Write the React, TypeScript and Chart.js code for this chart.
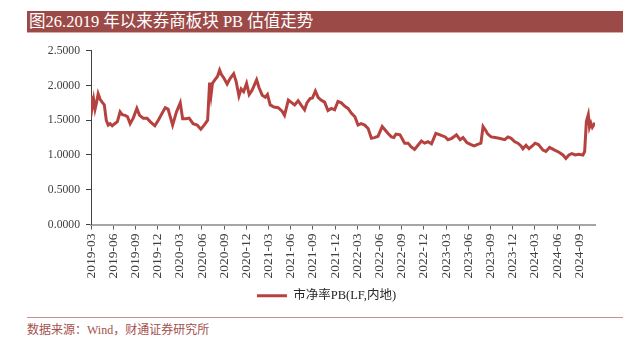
import React, { useEffect, useRef } from 'react';
import { Chart, registerables } from 'chart.js';

Chart.register(...registerables);

const titleText = '图26.2019 年以来券商板块 PB 估值走势';
const sourceText = '数据来源：Wind，财通证券研究所';
const seriesName = '市净率PB(LF,内地)';

const tickLabels = [
  '2019-03', '2019-06', '2019-09', '2019-12', '2020-03', '2020-06', '2020-09', '2020-12',
  '2021-03', '2021-06', '2021-09', '2021-12', '2022-03', '2022-06', '2022-09', '2022-12',
  '2023-03', '2023-06', '2023-09', '2023-12', '2024-03', '2024-06', '2024-09',
];

const dates = [
  '2019-03-01', '2019-03-06', '2019-03-12', '2019-03-18', '2019-03-24', '2019-03-31', '2019-04-08', '2019-04-16',
  '2019-04-25', '2019-05-03', '2019-05-11', '2019-05-19', '2019-05-28', '2019-06-07', '2019-06-18', '2019-06-29',
  '2019-07-08', '2019-07-20', '2019-07-30', '2019-08-10', '2019-08-23', '2019-09-07', '2019-09-18', '2019-10-03',
  '2019-10-19', '2019-11-01', '2019-11-20', '2019-12-04', '2019-12-20', '2020-01-02', '2020-01-14', '2020-02-02',
  '2020-02-17', '2020-03-03', '2020-03-13', '2020-03-27', '2020-04-09', '2020-04-25', '2020-05-12', '2020-05-27',
  '2020-06-10', '2020-06-24', '2020-07-02', '2020-07-08', '2020-07-14', '2020-07-24', '2020-08-04', '2020-08-13',
  '2020-08-20', '2020-09-01', '2020-09-13', '2020-09-25', '2020-10-10', '2020-10-20', '2020-11-01', '2020-11-10',
  '2020-11-20', '2020-12-02', '2020-12-13', '2020-12-25', '2021-01-13', '2021-01-23', '2021-02-05', '2021-02-17',
  '2021-02-25', '2021-03-08', '2021-03-24', '2021-04-10', '2021-04-26', '2021-05-06', '2021-05-22', '2021-06-02',
  '2021-06-17', '2021-07-01', '2021-07-13', '2021-07-28', '2021-08-07', '2021-08-20', '2021-08-30', '2021-09-11',
  '2021-09-22', '2021-10-04', '2021-10-19', '2021-11-02', '2021-11-16', '2021-11-29', '2021-12-13', '2021-12-27',
  '2022-01-11', '2022-01-24', '2022-02-07', '2022-02-20', '2022-03-04', '2022-03-17', '2022-04-01', '2022-04-15',
  '2022-04-28', '2022-05-11', '2022-05-26', '2022-06-12', '2022-06-24', '2022-07-06', '2022-07-20', '2022-07-30',
  '2022-08-08', '2022-08-25', '2022-09-13', '2022-09-27', '2022-10-09', '2022-10-24', '2022-11-07', '2022-11-21',
  '2022-12-04', '2022-12-18', '2023-01-02', '2023-01-20', '2023-02-06', '2023-02-26', '2023-03-09', '2023-03-25',
  '2023-04-13', '2023-04-28', '2023-05-10', '2023-05-26', '2023-06-12', '2023-06-25', '2023-07-07', '2023-07-23',
  '2023-08-01', '2023-08-11', '2023-08-21', '2023-09-04', '2023-09-20', '2023-10-06', '2023-10-30', '2023-11-12',
  '2023-11-25', '2023-12-10', '2023-12-23', '2024-01-05', '2024-01-13', '2024-01-26', '2024-02-07', '2024-02-20',
  '2024-03-02', '2024-03-16', '2024-04-04', '2024-04-16', '2024-05-01', '2024-05-22', '2024-06-09', '2024-06-25',
  '2024-07-07', '2024-07-20', '2024-08-01', '2024-08-16', '2024-08-30', '2024-09-16', '2024-09-23', '2024-09-30',
  '2024-10-08', '2024-10-13', '2024-10-19', '2024-10-25', '2024-11-01', '2024-11-05',
];

const pbValues = [
  1.85, 1.68, 1.80, 1.66, 1.75, 1.88, 1.80, 1.76,
  1.72, 1.50, 1.43, 1.45, 1.42, 1.45, 1.48, 1.62,
  1.58, 1.57, 1.55, 1.45, 1.53, 1.67, 1.57, 1.53,
  1.53, 1.48, 1.42, 1.50, 1.60, 1.68, 1.66, 1.43,
  1.62, 1.75, 1.52, 1.52, 1.53, 1.45, 1.43, 1.37,
  1.43, 1.50, 2.04, 1.86, 2.03, 2.08, 2.13, 2.22,
  2.16, 2.10, 2.02, 2.10, 2.17, 2.06, 1.85, 1.95,
  1.91, 2.03, 1.87, 1.93, 2.08, 1.97, 1.86, 1.83,
  1.87, 1.72, 1.69, 1.68, 1.63, 1.57, 1.79, 1.76,
  1.72, 1.78, 1.72, 1.65, 1.75, 1.81, 1.82, 1.92,
  1.83, 1.79, 1.76, 1.64, 1.67, 1.65, 1.77, 1.75,
  1.70, 1.67, 1.60, 1.55, 1.43, 1.45, 1.43, 1.38,
  1.24, 1.25, 1.27, 1.41, 1.36, 1.31, 1.26, 1.25,
  1.30, 1.29, 1.17, 1.17, 1.12, 1.08, 1.14, 1.20,
  1.17, 1.19, 1.16, 1.31, 1.29, 1.26, 1.22, 1.24,
  1.29, 1.22, 1.25, 1.18, 1.15, 1.13, 1.15, 1.17,
  1.41, 1.36, 1.30, 1.26, 1.25, 1.24, 1.22, 1.26,
  1.24, 1.19, 1.17, 1.13, 1.09, 1.14, 1.09, 1.13,
  1.17, 1.15, 1.07, 1.05, 1.11, 1.07, 1.04, 1.00,
  0.95, 1.00, 1.02, 1.00, 1.01, 1.00, 1.05, 1.48,
  1.58, 1.40, 1.46, 1.40, 1.44, 1.42,
];

const yTickMin = 0;
const yTickMax = 2.5;
const yTickStep = 0.5;

const LINE_COLOR = '#b6423f';
const BAR_COLOR = '#9c4a47';
const FONT = '"Liberation Serif", "Times New Roman", "Noto Sans CJK SC", serif';

function monthIndex(d: string): number {
  const [y, m, day] = d.split('-').map(Number);
  const dim = new Date(y, m, 0).getDate();
  return (y - 2019) * 12 + (m - 3) + ((day || 1) - 1) / dim;
}

const legendShift = {
  id: 'legendShift',
  afterLayout(chart: any) {
    const l = chart.legend;
    if (l) {
      l.left += 21;
      l.right += 21;
    }
  },
};

export default function App() {
  const ref = useRef<HTMLCanvasElement | null>(null);

  useEffect(() => {
    if (!ref.current) return;
    const points = dates.map((d, i) => ({ x: monthIndex(d), y: pbValues[i] }));
    const tickValues = tickLabels.map((t) => monthIndex(t + '-01'));
    const xMax = monthIndex(dates[dates.length - 1]);

    const chart = new Chart(ref.current, {
      type: 'line',
      data: {
        datasets: [
          {
            label: seriesName,
            data: points,
            borderColor: LINE_COLOR,
            backgroundColor: LINE_COLOR,
            borderWidth: 3,
            pointRadius: 0,
            tension: 0,
            fill: false,
          },
        ],
      },
      plugins: [legendShift],
      options: {
        animation: false,
        responsive: false,
        parsing: false as any,
        layout: { padding: { left: 0, right: 41, top: 20.7, bottom: 0 } },
        plugins: {
          tooltip: { enabled: false },
          legend: {
            display: true,
            position: 'bottom',
            labels: {
              boxWidth: 30,
              boxHeight: 3,
              padding: 5,
              color: '#262626',
              font: { family: FONT, size: 12.5 },
              generateLabels: (c: any) =>
                Chart.defaults.plugins.legend.labels
                  .generateLabels(c)
                  .map((l: any) => ({ ...l, lineWidth: 0, fillStyle: LINE_COLOR })),
            },
          },
        },
        scales: {
          x: {
            type: 'linear',
            min: 0,
            max: xMax,
            afterFit: (s: any) => {
              s.height = 60;
            },
            afterBuildTicks: (s: any) => {
              s.ticks = tickValues.map((v) => ({ value: v }));
            },
            border: { display: true, color: '#a6a6a6', width: 2 },
            grid: { drawOnChartArea: false, drawTicks: true, tickLength: 5, color: '#595959' },
            ticks: {
              autoSkip: false,
              minRotation: 90,
              maxRotation: 90,
              padding: 4,
              color: '#404040',
              font: { family: FONT, size: 13.5 },
              callback: (v: any) => {
                const idx = tickValues.findIndex((t) => Math.abs(t - Number(v)) < 1e-6);
                return idx >= 0 ? tickLabels[idx] : '';
              },
            },
          },
          y: {
            type: 'linear',
            min: yTickMin,
            max: yTickMax,
            afterFit: (s: any) => {
              s.width = 75;
            },
            border: { display: true, color: '#404040', width: 1 },
            grid: { drawOnChartArea: false, drawTicks: true, tickLength: 5, color: '#404040' },
            ticks: {
              stepSize: yTickStep,
              padding: 6,
              color: '#404040',
              font: { family: FONT, size: 11.7 },
              callback: (v: any) => Number(v).toFixed(4),
            },
          },
        },
      },
    } as any);
    return () => chart.destroy();
  }, []);

  return (
    <div style={{ position: 'absolute', left: 0, top: 0, width: 636, height: 343, background: '#fff', overflow: 'hidden' }}>
      <div
        style={{
          position: 'absolute',
          left: 27,
          top: 11,
          width: 596,
          height: 22,
          background: BAR_COLOR,
          borderBottom: '1px solid #d9a9a7',
          boxSizing: 'border-box',
          color: '#fff',
          fontFamily: FONT,
          fontSize: 16.5,
          lineHeight: '21px',
          paddingLeft: 2,
          whiteSpace: 'nowrap',
        }}
      >
        {titleText}
      </div>
      <canvas
        ref={ref}
        width={620}
        height={282}
        style={{ position: 'absolute', left: 16, top: 30, width: 620, height: 282 }}
      />
      <div style={{ position: 'absolute', left: 27, top: 317, width: 596, height: 1, background: '#c9908e' }} />
      <div
        style={{
          position: 'absolute',
          left: 27,
          top: 322,
          color: '#a4504d',
          fontFamily: FONT,
          fontSize: 12,
          lineHeight: '16px',
          whiteSpace: 'nowrap',
        }}
      >
        {sourceText}
      </div>
    </div>
  );
}
